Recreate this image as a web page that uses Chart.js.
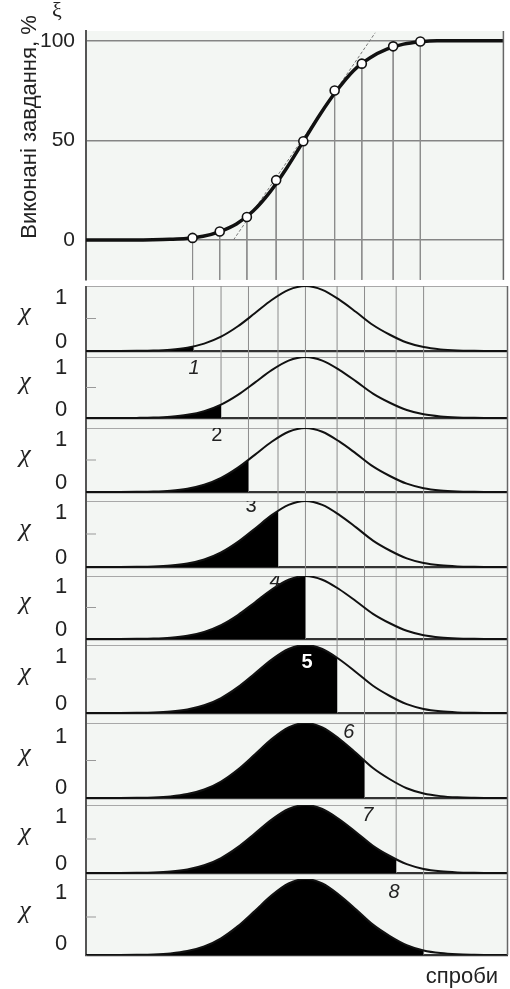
<!DOCTYPE html>
<html><head><meta charset="utf-8">
<script src="https://cdn.jsdelivr.net/npm/chart.js@4.4.0/dist/chart.umd.min.js"></script>
<style>
html,body{margin:0;padding:0;background:#fff;}
#wrap{position:relative;width:510px;height:989px;overflow:hidden;background:#fff;}
canvas{position:absolute;left:0;}
</style></head><body><div id="wrap"></div>
<script>
// ---------- data ----------
const trials       = [0,4,8,12,16,20,24,28,32,36,40,44,48,52,56,60,64,68,72,76,80,84,88,92,96,100];
const completedPct = [0,0,0,0,0.1,0.3,0.7,1.8,4.2,8,14.5,24,36,49.5,63,75,85,91.5,95.8,98.3,99.5,100,100,100,100,100];
const chiValues    = [0,0,0,0.002,0.007,0.021,0.052,0.113,0.22,0.38,0.58,0.785,0.941,1,0.941,0.79,0.6,0.4,0.25,0.13,0.06,0.025,0.009,0.003,0,0];
const markerTrials = [25.5,32,38.5,45.5,52,59.5,66,73.5,80];
const markerPct    = [1,4.2,11.5,30,49.5,75,88.5,97.2,99.6];
const cutChi       = [0.07,0.22,0.5,0.85,1,0.81,0.5,0.2,0.06];
const tangentTrials = [35.3,69.2];
const tangentPct    = [0,104];
const panelLabels  = ['1','2','3','4','5','6','7','8'];
const labelTrials  = [25.6,31.0,39.1,44.8,52.4,62.3,66.8,73.0];
const labelChi     = [0.82,0.89,0.91,0.92,0.74,0.87,0.85,0.82];
const topTicks     = [0,50,100];
const panelTicks   = [0,1];
const yTitle = 'Виконані завдання, %';
const xTitle = 'спроби';
const xiLabel = 'ξ';
const chiLabel = 'χ';

// ---------- layout ----------
const W = 510, PAGE_H = 989, LEFT = 86, RIGHT_PAD = 2;
const TOP = {plotTop:31, y100:41, y0:245, bottom:286};
const panelTops  = [286,357,428,501,576,645,723,805,879];
const panelBases = [351,418,492,567,639,713,798,873,955];
const BG = '#f3f6f3';
const FONT = "'Liberation Sans', Arial, sans-serif";
const SERIF = "'Liberation Serif', 'DejaVu Serif', serif";

Chart.defaults.animation = false;
Chart.defaults.font.family = FONT;

const wrap = document.getElementById('wrap');
function makeCanvas(top, h){
  const c = document.createElement('canvas');
  c.width = W; c.height = h; c.style.top = top + 'px';
  c.style.width = W + 'px'; c.style.height = h + 'px';
  wrap.appendChild(c);
  return c.getContext('2d');
}
const pts = (xs, ys) => xs.map((x,i)=>({x, y: ys[i]}));

function fixY(scale){ scale.width = LEFT; scale.paddingTop = 0; scale.paddingBottom = 0; }

function bgAndBorder(id, extra){
  return {
    id,
    beforeDraw(chart){
      const {ctx, chartArea:a} = chart;
      ctx.save(); ctx.fillStyle = BG;
      ctx.fillRect(a.left, a.top, a.right - a.left, a.bottom - a.top);
      ctx.restore();
    },
    afterDraw(chart){
      const {ctx, chartArea:a} = chart;
      ctx.save();
      ctx.strokeStyle = '#666'; ctx.lineWidth = 1.5;
      ctx.beginPath(); ctx.moveTo(a.right - 0.5, a.top); ctx.lineTo(a.right - 0.5, a.bottom); ctx.stroke();
      ctx.restore();
      if (extra) extra(chart);
    }
  };
}

// ---------- top chart ----------
(function(){
  const h = TOP.bottom;
  const pxPer = (TOP.y0 - TOP.y100) / 100;
  const yMax = 100 + (TOP.y100 - TOP.plotTop) / pxPer;
  const yMin = -(TOP.bottom - TOP.y0) / pxPer;
  const ctx = makeCanvas(0, h);
  const vl = [];
  markerTrials.forEach((t,i)=>{ vl.push({x:t,y:markerPct[i]},{x:t,y:yMin},{x:t,y:null}); });
  new Chart(ctx, {
    type:'line',
    data:{datasets:[
      {data: pts(markerTrials, markerPct), showLine:false, pointRadius:4.5, pointBackgroundColor:'#fff',
       pointBorderColor:'#111', pointBorderWidth:1.6, order:0},
      {data: pts(trials, completedPct), borderColor:'#111', borderWidth:3.5, pointRadius:0,
       cubicInterpolationMode:'monotone', order:1},
      {data: pts(tangentTrials, tangentPct), borderColor:'#777', borderWidth:1, borderDash:[3,2], pointRadius:0, order:2},
      {data: vl, borderColor:'#8c8c8c', borderWidth:1, pointRadius:0, spanGaps:false, order:3}
    ]},
    options:{
      responsive:false, devicePixelRatio:1,
      layout:{padding:{left:0,right:RIGHT_PAD,top:TOP.plotTop,bottom:0}},
      plugins:{legend:{display:false}, tooltip:{enabled:false}},
      scales:{
        x:{type:'linear', min:0, max:100, display:false},
        y:{type:'linear', min:yMin, max:yMax,
           afterBuildTicks: s => { s.ticks = topTicks.map(v=>({value:v})); },
           afterFit: fixY,
           ticks:{color:'#222', font:{size:21, family:FONT}, padding:11},
           grid:{color:'#858585', lineWidth:1.4, drawTicks:false},
           border:{display:true, color:'#555', width:2}}
      }
    },
    plugins:[bgAndBorder('topdecor', chart => {
      const c = chart.ctx;
      c.save();
      c.fillStyle = '#222';
      c.font = '22px ' + FONT;
      c.translate(30, 127); c.rotate(-Math.PI/2);
      c.textAlign = 'center'; c.textBaseline = 'middle';
      c.fillText(yTitle, 0, 0);
      c.restore();
      c.save();
      c.fillStyle = '#222'; c.font = '22px ' + SERIF;
      c.textAlign = 'center'; c.textBaseline = 'middle';
      c.fillText(xiLabel, 57, 11);
      c.restore();
    })]
  });
})();

// ---------- panels ----------
panelTops.forEach((pt, k) => {
  const base = panelBases[k];
  const last = k === panelTops.length - 1;
  const next = last ? base : panelTops[k+1];
  const hUnit = base - pt;
  const yMin = -(next - base) / hUnit;
  const canvasH = (last ? PAGE_H : panelTops[k+1]) - pt;
  const ctx = makeCanvas(pt, canvasH);
  const cut = markerTrials[k];
  const fillData = [];
  trials.forEach((t,i)=>{ if (t < cut) fillData.push({x:t, y:chiValues[i]}); });
  fillData.push({x:cut, y:cutChi[k]});
  const vl = [];
  markerTrials.forEach((t,j)=>{
    if (j > k) vl.push({x:t,y:yMin},{x:t,y:1},{x:t,y:null});
    else if (j === k) vl.push({x:t,y:0},{x:t,y:1},{x:t,y:null});
  });
  new Chart(ctx, {
    type:'line',
    data:{datasets:[
      {data: pts(trials, chiValues), borderColor:'#111', borderWidth:2, pointRadius:0,
       cubicInterpolationMode:'monotone', order:0},
      {data: fillData, borderWidth:0, borderColor:'rgba(0,0,0,0)', backgroundColor:'#000', fill:'origin',
       pointRadius:0, cubicInterpolationMode:'monotone', order:1},
      {data: vl, borderColor:'#8c8c8c', borderWidth:1, pointRadius:0, spanGaps:false, order:2}
    ]},
    options:{
      responsive:false, devicePixelRatio:1,
      layout:{padding:{left:0,right:RIGHT_PAD,top:0,bottom: last ? PAGE_H - base : 0}},
      plugins:{legend:{display:false}, tooltip:{enabled:false}, filler:{propagate:false}},
      scales:{
        x:{type:'linear', min:0, max:100, display:false},
        y:{type:'linear', min:yMin, max:1,
           afterBuildTicks: s => { s.ticks = panelTicks.map(v=>({value:v})); },
           afterFit: fixY,
           ticks:{display:false},
           grid:{drawTicks:false,
                 color: c => c.tick && c.tick.value === 0 ? '#333' : '#a8a8a8',
                 lineWidth: c => c.tick && c.tick.value === 0 ? 2.2 : 1},
           border:{display:true, color:'#555', width:2}}
      }
    },
    plugins:[bgAndBorder('pdecor'+k, chart => {
      const c = chart.ctx, xs = chart.scales.x, ys = chart.scales.y;
      c.save();
      // mid tick
      c.strokeStyle = '#999'; c.lineWidth = 1;
      c.beginPath(); c.moveTo(LEFT, ys.getPixelForValue(0.5)); c.lineTo(LEFT + 10, ys.getPixelForValue(0.5)); c.stroke();
      // axis texts
      c.fillStyle = '#222'; c.textAlign = 'center'; c.textBaseline = 'middle';
      c.font = '22px ' + FONT;
      c.fillText(String(panelTicks[1]), 61, ys.getPixelForValue(0.82));
      c.fillText(String(panelTicks[0]), 61, ys.getPixelForValue(0.14));
      c.font = 'italic 26px ' + SERIF;
      c.fillText(chiLabel, 25, ys.getPixelForValue(0.58));
      // curve number label (label of the previous panel sits at top of this one)
      if (k >= 1) {
        const li = k - 1;
        const txt = panelLabels[li];
        if (txt === '5') { c.fillStyle = '#fff'; c.font = 'bold 20px ' + FONT; }
        else if (txt === '2' || txt === '3') { c.fillStyle = '#222'; c.font = '20px ' + FONT; }
        else { c.fillStyle = '#222'; c.font = 'italic 20px ' + FONT; }
        c.fillText(txt, xs.getPixelForValue(labelTrials[li]), ys.getPixelForValue(labelChi[li]));
      }
      if (last) {
        c.fillStyle = '#222'; c.font = '22px ' + FONT;
        c.fillText(xTitle, 462, ys.getPixelForValue(0) + 22);
      }
      c.restore();
    })]
  });
});
</script></body></html>
